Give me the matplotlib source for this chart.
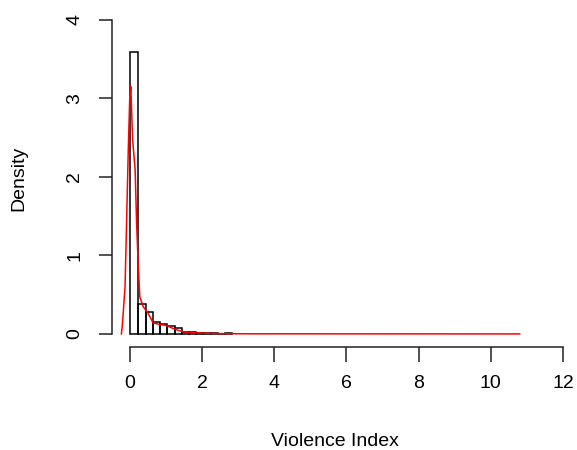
import matplotlib
matplotlib.use("Agg")
import matplotlib.pyplot as plt

# Histogram data (bin edges and densities)
bin_edges = [0.0, 0.24, 0.44, 0.64, 0.84, 1.04, 1.24, 1.44, 1.64, 1.84, 2.04, 2.24, 2.44, 2.64, 2.84]
bin_density = [3.59, 0.38, 0.28, 0.15, 0.125, 0.10, 0.07, 0.025, 0.02, 0.015, 0.012, 0.01, 0.0, 0.01]

# Kernel density curve
dens_x = [-0.23, -0.2, -0.13, -0.09, -0.04, 0.0, 0.03, 0.08, 0.15, 0.19, 0.23, 0.26, 0.28,
          0.37, 0.51, 0.65, 0.83, 1.0, 1.2, 1.38, 1.57, 2.0, 2.4, 3.0, 10.8]
dens_y = [0.0, 0.14, 0.6, 1.37, 2.35, 3.0, 3.15, 2.47, 2.09, 1.41, 0.94, 0.65, 0.47,
          0.35, 0.26, 0.14, 0.12, 0.11, 0.07, 0.04, 0.02, 0.012, 0.005, 0.002, 0.0]

x_ticks = [0, 2, 4, 6, 8, 10, 12]
y_ticks = [0, 1, 2, 3, 4]

plt.rcParams['font.family'] = ['Liberation Sans', 'DejaVu Sans']

W, H = 577, 450
fig = plt.figure(figsize=(W / 100, H / 100), dpi=100)
left, right = 112.4, 580.4
top, bottom = 7.4, 346.5
ax = fig.add_axes([left / W, 1 - bottom / H, (right - left) / W, (bottom - top) / H])

widths = [bin_edges[i + 1] - bin_edges[i] for i in range(len(bin_density))]
ax.bar(bin_edges[:-1], bin_density, width=widths, align='edge', fill=False,
       edgecolor='black', linewidth=1.1)
ax.plot(dens_x, dens_y, color='red', linewidth=1.1)

ax.set_xlim(-0.48, 12.48)
ax.set_ylim(-0.16, 4.16)

for s in ['top', 'right']:
    ax.spines[s].set_visible(False)
ax.spines['left'].set_bounds(0, 4)
ax.spines['bottom'].set_bounds(0, 12)
for s in ['left', 'bottom']:
    ax.spines[s].set_linewidth(1.1)
    ax.spines[s].set_color('#222222')

ax.set_xticks(x_ticks)
ax.set_xticklabels([str(t) for t in x_ticks])
ax.set_yticks(y_ticks)
ax.set_yticklabels([str(t) for t in y_ticks], rotation=90, va='center')
ax.tick_params(axis='x', length=10.8, width=1.1, color='#222222', labelsize=14, pad=10)
ax.tick_params(axis='y', length=9.1, width=1.1, color='#222222', labelsize=14, pad=12)

fig.text(19 / W, 1 - 178 / H, 'Density', rotation=90, ha='center', va='center', fontsize=14)
fig.text(335 / W, 1 - 441 / H, 'Violence Index', ha='center', va='center', fontsize=14)

fig.savefig('out.png', dpi=100)
